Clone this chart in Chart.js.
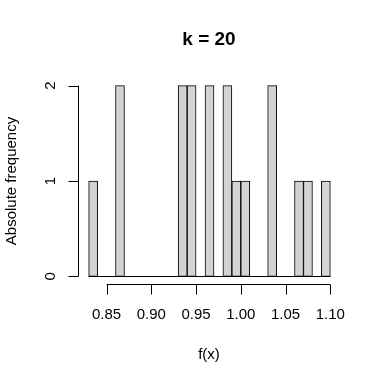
<!DOCTYPE html>
<html>
<head>
<meta charset="utf-8">
<script src="https://cdn.jsdelivr.net/npm/chart.js@4"></script>
<style>
  html, body { margin: 0; padding: 0; background: #fff; }
  #wrap { width: 380px; height: 382px; }
</style>
</head>
<body>
<div id="wrap"><canvas id="hist" width="380" height="382"></canvas></div>
<script>
// Bins (left edge) and counts of the histogram
const binStarts = [0.83, 0.84, 0.85, 0.86, 0.87, 0.88, 0.89, 0.90, 0.91, 0.92, 0.93, 0.94, 0.95, 0.96,
                   0.97, 0.98, 0.99, 1.00, 1.01, 1.02, 1.03, 1.04, 1.05, 1.06, 1.07, 1.08, 1.09];
const counts = [1, 0, 0, 2, 0, 0, 0, 0, 0, 0, 2, 2, 0, 2,
                0, 2, 1, 1, 0, 0, 2, 0, 0, 1, 1, 0, 1];
const binWidth = 0.01;
const xTicks = [0.85, 0.90, 0.95, 1.00, 1.05, 1.10];
const yTicks = [0, 1, 2];
const titleText = "k = 20";
const xLabel = "f(x)";
const yLabel = "Absolute frequency";

const FONT = "'Liberation Sans', Arial, sans-serif";

// R style axes: line only over tick range, outward ticks, rotated y labels
const rAxes = {
  id: "rAxes",
  afterDraw(chart) {
    const ctx = chart.ctx;
    const xs = chart.scales.x;
    const ys = chart.scales.y;
    const area = chart.chartArea;
    ctx.save();
    ctx.strokeStyle = "#000";
    ctx.fillStyle = "#000";
    ctx.lineWidth = 1;

    // baseline under zero-height bins
    const y0 = Math.round(ys.getPixelForValue(0)) + 0.5;
    ctx.beginPath();
    ctx.moveTo(xs.getPixelForValue(binStarts[0]), y0);
    ctx.lineTo(xs.getPixelForValue(binStarts[binStarts.length - 1] + binWidth), y0);
    ctx.stroke();

    // x axis
    const ax = Math.round(area.bottom) + 0.5;
    ctx.beginPath();
    ctx.moveTo(xs.getPixelForValue(xTicks[0]), ax);
    ctx.lineTo(xs.getPixelForValue(xTicks[xTicks.length - 1]), ax);
    xTicks.forEach(v => {
      const px = Math.round(xs.getPixelForValue(v)) + 0.5;
      ctx.moveTo(px, ax);
      ctx.lineTo(px, ax + 10);
    });
    ctx.stroke();
    ctx.font = "15px " + FONT;
    ctx.textAlign = "center";
    ctx.textBaseline = "middle";
    xTicks.forEach(v => {
      ctx.fillText(v.toFixed(2), xs.getPixelForValue(v), ax + 30);
    });

    // y axis
    const ay = Math.round(area.left) - 0.5;
    ctx.beginPath();
    ctx.moveTo(ay, ys.getPixelForValue(yTicks[0]));
    ctx.lineTo(ay, ys.getPixelForValue(yTicks[yTicks.length - 1]));
    yTicks.forEach(v => {
      const py = Math.round(ys.getPixelForValue(v)) + 0.5;
      ctx.moveTo(ay, py);
      ctx.lineTo(ay - 10, py);
    });
    ctx.stroke();
    yTicks.forEach(v => {
      ctx.save();
      ctx.translate(ay - 28, ys.getPixelForValue(v));
      ctx.rotate(-Math.PI / 2);
      ctx.fillText(String(v), 0, 0);
      ctx.restore();
    });

    // axis titles
    ctx.fillText(xLabel, 209, 355);
    ctx.save();
    ctx.translate(12, 181);
    ctx.rotate(-Math.PI / 2);
    ctx.fillText(yLabel, 0, 0);
    ctx.restore();

    // main title
    ctx.font = "bold 19px " + FONT;
    ctx.fillText(titleText, 209, 40);
    ctx.restore();
  }
};

const ctx = document.getElementById("hist").getContext("2d");
new Chart(ctx, {
  type: "bar",
  data: {
    datasets: [{
      data: binStarts.map((b, i) => ({ x: b + binWidth / 2, y: counts[i] })),
      backgroundColor: "#D3D3D3",
      borderColor: "#000",
      borderWidth: 1,
      borderSkipped: false,
      barPercentage: 1,
      categoryPercentage: 1
    }]
  },
  options: {
    responsive: false,
    animation: false,
    layout: { padding: { left: 79, right: 40, top: 78, bottom: 98 } },
    plugins: { legend: { display: false }, tooltip: { enabled: false }, title: { display: false } },
    scales: {
      x: { type: "linear", display: false, offset: false, min: 0.8192, max: 1.1108 },
      y: { display: false, min: -0.08, max: 2.08 }
    }
  },
  plugins: [rAxes]
});
</script>
</body>
</html>
